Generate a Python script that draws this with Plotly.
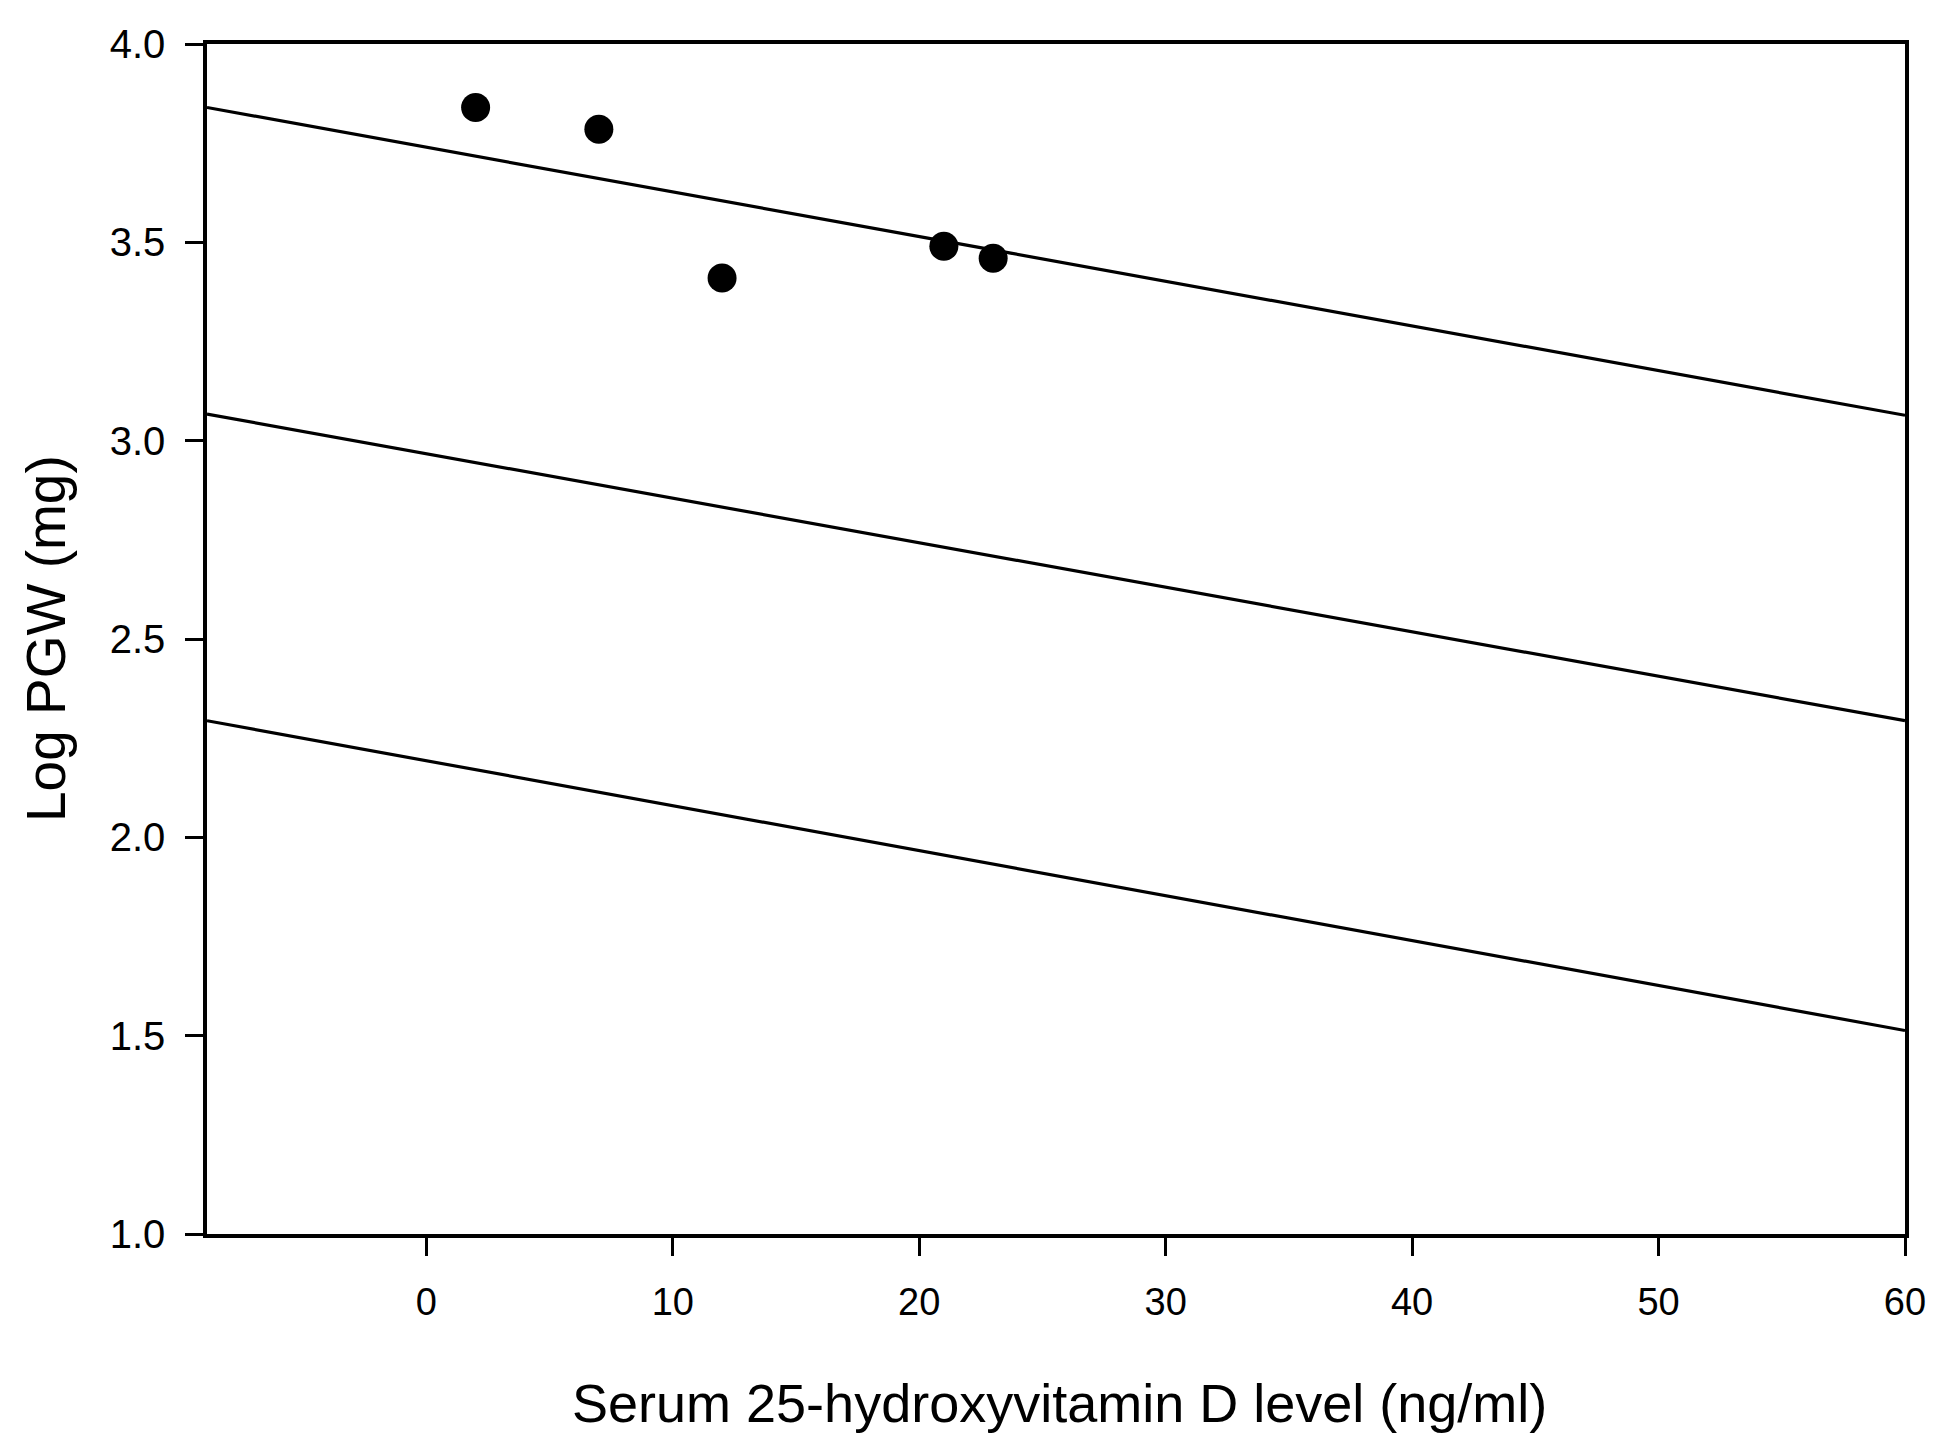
import plotly.graph_objects as go

# serum 25-hydroxyvitamin D (ng/ml) vs log placental weight
vitd = [2, 7, 12, 21, 23]
log_pgw = [3.84, 3.785, 3.41, 3.49, 3.46]

# reference lines, value at left and right edge of the x range
line_x = [-8.9, 60]
upper_line = [3.840, 3.064]
middle_line = [3.067, 2.294]
lower_line = [2.294, 1.513]

x_ticks = [0, 10, 20, 30, 40, 50, 60]
y_ticks = [1.0, 1.5, 2.0, 2.5, 3.0, 3.5, 4.0]

font_family = "Liberation Sans, Arial"

fig = go.Figure()
for ln in [upper_line, middle_line, lower_line]:
    fig.add_trace(go.Scatter(x=line_x, y=ln, mode="lines",
                             line=dict(color="black", width=3.2),
                             showlegend=False, hoverinfo="skip"))
fig.add_trace(go.Scatter(x=vitd, y=log_pgw, mode="markers",
                         marker=dict(color="black", size=29, symbol="circle"),
                         showlegend=False))

axis_style = dict(showgrid=False, zeroline=False, showline=True, linecolor="black",
                  linewidth=3.5, mirror=True, ticks="outside", ticklen=18,
                  tickwidth=3, tickcolor="black")

fig.update_xaxes(range=[-8.9, 60], tickvals=x_ticks, ticklabelstandoff=14,
                 tickfont=dict(family=font_family, size=38, color="black"), **axis_style)
fig.update_yaxes(range=[1.0, 4.0], tickvals=y_ticks, tickformat=".1f", ticklabelstandoff=12,
                 tickfont=dict(family=font_family, size=40, color="black"), **axis_style)

fig.add_annotation(text="Serum 25-hydroxyvitamin D level (ng/ml)", xref="paper", yref="paper",
                   x=0.502, y=0, yshift=-169, xanchor="center", yanchor="middle",
                   showarrow=False, font=dict(family=font_family, size=54, color="black"))
fig.add_annotation(text="Log PGW (mg)", xref="paper", yref="paper",
                   x=0, y=0.5, xshift=-161, xanchor="center", yanchor="middle",
                   textangle=-90, showarrow=False,
                   font=dict(family=font_family, size=55, color="black"))

fig.update_layout(width=1949, height=1451, template="none",
                  plot_bgcolor="white", paper_bgcolor="white",
                  margin=dict(l=199, r=52, t=36, b=225),
                  font_family=font_family)
fig.write_html("out.html")
